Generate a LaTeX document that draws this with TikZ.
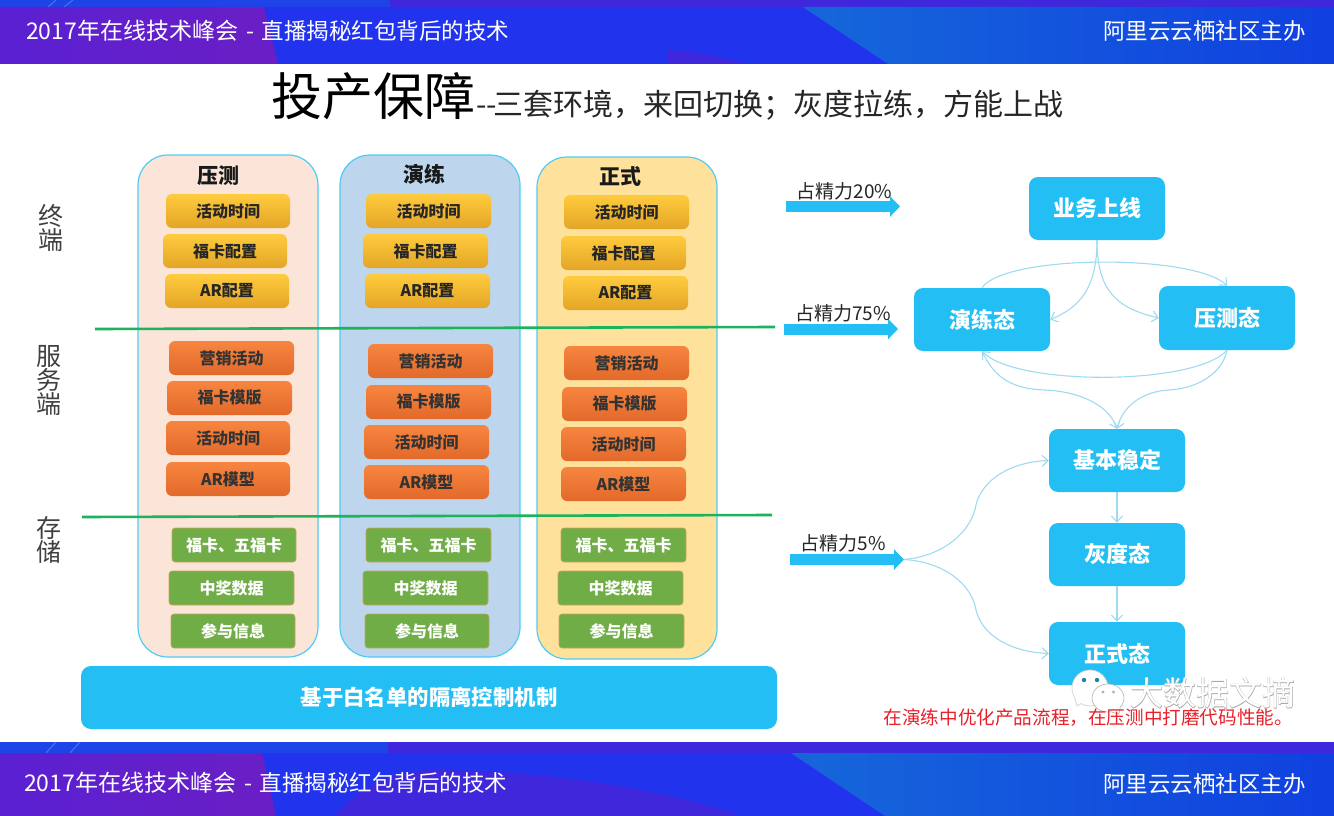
\documentclass[tikz,border=0pt]{standalone}
\usepackage{fontspec}
\setmainfont{Noto Sans CJK SC}
\newfontfamily\outfont[FakeBold=2]{Noto Sans CJK SC}
\usetikzlibrary{arrows.meta,calc}
\definecolor{sky}{HTML}{23BEF3}
\definecolor{flow}{HTML}{9FDBF0}
\definecolor{hblue}{HTML}{2233EE}
\definecolor{hstrip}{HTML}{1E44E8}
\definecolor{hstreak}{HTML}{3F78F0}
\definecolor{hpurple}{HTML}{6A1FC4}
\definecolor{hviolet}{HTML}{3F27DC}
\definecolor{hleft}{HTML}{5A20D2}
\definecolor{tealA}{HTML}{1667DA}
\definecolor{tealB}{HTML}{1040E0}
\definecolor{yelA}{HTML}{FFCB3E}\definecolor{yelB}{HTML}{FFC536}\definecolor{yelC}{HTML}{E3A526}
\definecolor{oraA}{HTML}{F78540}\definecolor{oraB}{HTML}{F37A36}\definecolor{oraC}{HTML}{E2692A}
\definecolor{gbox}{HTML}{70AD47}\definecolor{gedge}{HTML}{C9A45A}\definecolor{sepcol}{HTML}{1DB25C}
\definecolor{pnA}{HTML}{FBE5D8}\definecolor{pnB}{HTML}{BDD6EE}\definecolor{pnC}{HTML}{FEE29C}
\definecolor{notered}{HTML}{E8202A}
\newcommand{\fsz}[1]{\fontsize{#1}{#1}\selectfont}
\newcommand{\dn}[1]{\raisebox{-1pt}{#1}}
\newcommand{\hdtext}{{\fsz{23}2017年在线技术峰会}\hspace{3pt} - \hspace{2pt}{\fsz{22.5}直播揭秘红包背后的技术}}
\tikzset{
 x=1pt,y=-1pt,
 panel/.style={draw=sky!80,line width=1.2pt,rounded corners=30pt},
 yel/.style={rounded corners=6pt,top color=yelA,middle color=yelB,bottom color=yelC,text=black!85,font=\fsz{16}\bfseries},
 ora/.style={rounded corners=6pt,top color=oraA,middle color=oraB,bottom color=oraC,text=black!80,font=\fsz{16}\bfseries},
 gre/.style={rounded corners=3pt,fill=gbox,draw=gedge,line width=0.6pt,text=white,font=\fsz{16}\bfseries},
 state/.style={rounded corners=9pt,fill=sky,text=white,font=\fsz{22}\bfseries},
 flowline/.style={draw=flow,line width=1.1pt,-{Straight Barb[length=6pt,width=11pt]}},
 block/.style={draw=sky,line width=11pt,-{Triangle[length=10pt,width=20pt]}},
 sep/.style={draw=sepcol,line width=2.6pt},
 lab/.style={inner sep=0pt,text=black!85,font=\fsz{19}},
 side/.style={inner sep=0pt,align=center,text=black!75,font=\fsz{25}},
 head/.style={inner sep=0pt,text=black!90,font=\fsz{21}\bfseries},
 hdr/.style={inner sep=0pt,text=white,font=\fsz{23}}
}
\newcommand{\bx}[7]{\node[#6,inner sep=0pt,minimum width={(#4-#2)*1pt},minimum height={(#5-#3)*1pt}] (#1) at ({(#2+#4)/2},{(#3+#5)/2}) {#7};}
\begin{document}
\begin{tikzpicture}
\useasboundingbox (0,0) rectangle (1334,816);
\fill[white] (0,0) rectangle (1334,816);
% header
\fill[hblue] (0,0) rectangle (1334,64);
\fill[hstrip] (0,0) rectangle (390,7);
\fill[hviolet] (390,0) rectangle (1334,7);
\draw[hstreak,line width=1pt] (48,7) -- (56,0) (64,7) -- (73,0);
\fill[hviolet] (667,50) .. controls (700,52) and (725,58) .. (745,64) -- (667,64) -- cycle;
\shade[left color=tealA,right color=tealB] (803,7) -- (1334,7) -- (1334,64) -- (888,64) -- cycle;
\shade[left color=hleft,right color=hpurple] (0,7) -- (264,7) -- (278,64) -- (0,64) -- cycle;
% footer
\fill[hblue] (0,742) rectangle (1334,816);
\fill[hstrip] (0,742) rectangle (388,753);
\fill[hviolet] (388,742) rectangle (1334,753);
\draw[hstreak,line width=1pt] (46,753) -- (56,742) (70,753) -- (80,742);
\fill[hviolet] (335,816) .. controls (360,785) and (400,770) .. (430,770) .. controls (530,770) and (650,785) .. (742,816) -- cycle;
\shade[left color=tealA,right color=tealB] (791,753) -- (1334,753) -- (1334,816) -- (885,816) -- cycle;
\shade[left color=hleft,right color=hpurple] (0,753) -- (262,753) -- (276,816) -- (0,816) -- cycle;
\node[hdr,anchor=west] (h1) at (26,31) {\hdtext};
\node[hdr,anchor=east,font=\fsz{22.5}] (h2) at (1306,31) {阿里云云栖社区主办};
\node[hdr,anchor=west] (f1) at (24,783) {\hdtext};
\node[hdr,anchor=east,font=\fsz{22.5}] (f2) at (1306,784) {阿里云云栖社区主办};
% title
\node[inner sep=0pt,anchor=base west,font=\fsz{51},text=black] (t1) at (271,115) {投产保障};
\node[inner sep=0pt,anchor=base west,font=\fsz{30},text=black!85] (t2) at (476,115) {-{}-\hspace{-4pt}三套环境，来回切换；灰度拉练，方能上战};
% side labels
\node[side] (s1) at (51,228) {终\\[-1pt]端};
\node[side] (s2) at (49,380) {服\\[-1pt]务\\[-1pt]端};
\node[side] (s3) at (49,540) {存\\[-1pt]储};
% panels
\bx{pa}{138}{155}{318}{657}{panel,fill=pnA}{}
\bx{pb}{340}{155}{520}{657}{panel,fill=pnB}{}
\bx{pc}{537}{157}{717}{659}{panel,fill=pnC}{}
\node[head] (ha) at (218,176) {压测};
\node[head] (hb) at (424,174) {演练};
\node[head] (hc) at (620,176) {正式};
% column 1
\bx{a1}{166}{194}{290}{228}{yel}{活动时间}
\bx{a2}{163}{234}{287}{268}{yel}{福卡配置}
\bx{a3}{165}{274}{289}{308}{yel}{AR配置}
\bx{a4}{169}{341}{294}{375}{ora}{营销活动}
\bx{a5}{167}{381}{292}{415}{ora}{福卡模版}
\bx{a6}{166}{421}{290}{455}{ora}{活动时间}
\bx{a7}{166}{462}{290}{496}{ora}{AR模型}
\bx{a8}{172}{528}{296}{562}{gre}{福卡、五福卡}
\bx{a9}{169}{571}{294}{605}{gre}{中奖数据}
\bx{a10}{171}{614}{295}{648}{gre}{参与信息}
% column 2
\bx{b1}{366}{194}{491}{228}{yel}{活动时间}
\bx{b2}{363}{234}{488}{268}{yel}{福卡配置}
\bx{b3}{365}{274}{490}{308}{yel}{AR配置}
\bx{b4}{368}{344}{493}{378}{ora}{营销活动}
\bx{b5}{366}{385}{491}{419}{ora}{福卡模版}
\bx{b6}{364}{425}{489}{459}{ora}{活动时间}
\bx{b7}{364}{465}{489}{499}{ora}{AR模型}
\bx{b8}{366}{528}{491}{562}{gre}{福卡、五福卡}
\bx{b9}{363}{571}{488}{605}{gre}{中奖数据}
\bx{b10}{365}{614}{489}{648}{gre}{参与信息}
% column 3
\bx{c1}{564}{195}{689}{229}{yel}{活动时间}
\bx{c2}{561}{236}{686}{270}{yel}{福卡配置}
\bx{c3}{563}{276}{688}{310}{yel}{AR配置}
\bx{c4}{564}{346}{689}{380}{ora}{营销活动}
\bx{c5}{562}{387}{687}{421}{ora}{福卡模版}
\bx{c6}{561}{427}{686}{461}{ora}{活动时间}
\bx{c7}{561}{467}{686}{501}{ora}{AR模型}
\bx{c8}{561}{528}{686}{562}{gre}{福卡、五福卡}
\bx{c9}{558}{571}{683}{605}{gre}{中奖数据}
\bx{c10}{559}{614}{684}{648}{gre}{参与信息}
% separators
\coordinate (l1a) at (95,329); \coordinate (l1b) at (775,327);
\coordinate (l2a) at (82,517); \coordinate (l2b) at (772,515);
\draw[sep] (l1a) -- (l1b);
\draw[sep] (l2a) -- (l2b);
% bottom bar
\bx{bar}{81}{666}{777}{729}{rounded corners=10pt,fill=sky,text=white,font=\fsz{21.4}\bfseries}{基于白名单的隔离控制机制}
% block arrows
\coordinate (e1a) at (786,206.5); \coordinate (e1b) at (900,206.5);
\coordinate (e2a) at (784,329); \coordinate (e2b) at (898,329);
\coordinate (e3a) at (790,559.5); \coordinate (e3b) at (904,559.5);
\draw[block] (e1a) -- (e1b);
\draw[block] (e2a) -- (e2b);
\draw[block] (e3a) -- (e3b);
\node[lab] (n1) at (844.5,191) {占精力20\%};
\node[lab] (n2) at (843,313) {占精力75\%};
\node[lab] (n3) at (843,543) {占精力5\%};
% states
\bx{st1}{1029}{177}{1165}{240}{state}{\dn{业务上线}}
\bx{st2}{914}{288}{1050}{351}{state}{\dn{演练态}}
\bx{st3}{1159}{286}{1295}{350}{state}{\dn{压测态}}
\bx{st4}{1049}{429}{1185}{492}{state}{\dn{基本稳定}}
\bx{st5}{1049}{523}{1185}{586}{state}{\dn{灰度态}}
\bx{st6}{1049}{622}{1185}{685}{state}{\dn{正式态}}
% flows
\draw[flowline] (st1.south) .. controls +(0,50) and (1078,308) .. (st2.east);
\draw[flowline] (st1.south) .. controls +(0,50) and (1116,308) .. (st3.west);
\draw[flowline] (st2.north) .. controls (1005,254) and (1195,254) .. (st3.north);
\draw[flowline] (st3.south) .. controls (1195,386) and (1015,386) .. (st2.south);
\draw[flowline] (st2.south) .. controls (995,380) and (1015,389) .. (1045,390) .. controls (1085,392) and (1110,408) .. (st4.north);
\draw[flowline] (st3.south) .. controls (1222,375) and (1195,389) .. (1168,390) .. controls (1140,392) and (1122,408) .. (st4.north);
\draw[flowline] (st4.south) -- (st5.north);
\draw[flowline] (st5.south) -- (st6.north);
\draw[flowline] (e3b) .. controls (945,556) and (972,530) .. (976,505) .. controls (982,480) and (1010,462) .. (st4.west);
\draw[flowline] (e3b) .. controls (945,562) and (972,585) .. (976,610) .. controls (982,635) and (1010,652) .. (st6.west);
% watermark
\draw[gray!35,fill=white,line width=0.7pt] (1074.4,697) arc[start angle=150,end angle=480,x radius=18,y radius=18] -- (1077,706) -- cycle;
\fill[sky!70!black] (1084,680) circle (2.2) (1097,680) circle (2.2);
\draw[gray!55,fill=white,line width=0.7pt] (1110.8,711.8) arc[start angle=80,end angle=400,x radius=16,y radius=14] -- (1119,714) -- cycle;
\fill[gray!60] (1103,692) circle (1.6) (1113.5,692) circle (1.6);
\node[inner sep=0pt,anchor=west,text=gray!65,font=\outfont\fsz{33}] (wmo) at (1130,693) {大数据文摘};
\node[inner sep=0pt,anchor=west,text=white,font=\fsz{33}] (wm) at (1130,693) {大数据文摘};
% red note
\node[inner sep=0pt,anchor=east,text=notered,font=\fsz{18.6}] (note) at (1293,718) {在演练中优化产品流程，在压测中打磨代码性能。};
\end{tikzpicture}
\end{document}
